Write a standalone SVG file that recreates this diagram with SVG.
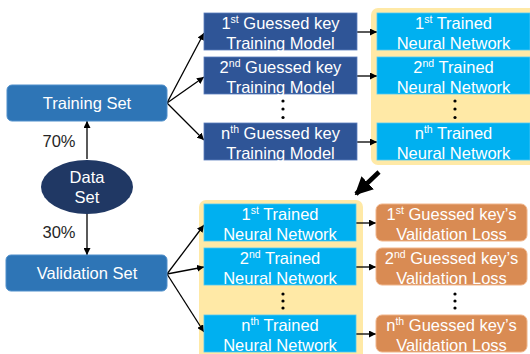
<svg xmlns="http://www.w3.org/2000/svg" width="530" height="354" viewBox="0 0 530 354">
<defs>
<marker id="ah" viewBox="0 0 10 10" refX="10" refY="5" markerWidth="7" markerHeight="7" markerUnits="userSpaceOnUse" orient="auto"><path d="M0,0 L10,5 L0,10 z" fill="#000"/></marker>
<marker id="bh" viewBox="0 0 10 10" refX="9" refY="5" markerWidth="4" markerHeight="4" orient="auto"><path d="M0,0 L10,5 L0,10 z" fill="#000"/></marker>
<style>
text{font-family:"Liberation Sans",Arial,sans-serif;font-size:16.5px;text-anchor:middle;fill:#fff}
.lbl{fill:#262626}
.set{fill:#2E75B6;stroke:#4F8FCB;stroke-width:1}
.tm{fill:#2F5597;stroke:#5B7DBD;stroke-width:0.8}
.nn{fill:#00B0F0;stroke:#4FC8F4;stroke-width:0.8}
.ls{fill:#D98B53;stroke:#F0B48A;stroke-width:1}
.bg{fill:#FFE9A6}
.c{fill:none;stroke:#000;stroke-width:1.3;marker-end:url(#ah)}
.dot{fill:#000}
.sp{font-size:10.5px}
</style>
</defs>
<rect class="bg" x="371" y="8" width="170" height="157" rx="7"/>
<rect class="bg" x="199" y="200" width="164" height="162" rx="7"/>
<g id="connectors">
<path class="c" d="M87,159 L87,121"/>
<path class="c" d="M87,214 L87,255"/>
<path class="c" d="M167,103 L204,33"/>
<path class="c" d="M167,103 L204,77"/>
<path class="c" d="M167,103 L204,140"/>
<path class="c" d="M167,274 L204,225"/>
<path class="c" d="M167,274 L204,267"/>
<path class="c" d="M167,274 L204,332"/>
<path class="c" d="M357,32 L377,32"/>
<path class="c" d="M357,76 L377,76"/>
<path class="c" d="M357,142 L377,142"/>
<path class="c" d="M356,223 L376,223"/>
<path class="c" d="M356,267 L376,267"/>
<path class="c" d="M356,334 L376,334"/>
<path d="M379,172 L356,194" stroke="#000" stroke-width="4.5" fill="none" marker-end="url(#bh)"/>
</g>
<g id="training-set"><rect class="set" x="7" y="85" width="160" height="36" rx="5"/><text x="87" y="109">Training Set</text></g>
<g id="validation-set"><rect class="set" x="6" y="255" width="161" height="36" rx="5"/><text x="87" y="279">Validation Set</text></g>
<g id="data-set"><ellipse cx="87" cy="187" rx="46" ry="27" fill="#203864"/><text x="87" y="183">Data<tspan x="87" dy="20">Set</tspan></text></g>
<text class="lbl" x="59" y="147">70%</text>
<text class="lbl" x="59" y="238">30%</text>
<g id="tm1"><rect class="tm" x="204" y="13" width="153" height="37"/><text x="280.5" y="29">1<tspan class="sp" dy="-6">st</tspan><tspan dy="6"> Guessed key</tspan><tspan x="280.5" dy="19.5">Training Model</tspan></text></g>
<g id="tm2"><rect class="tm" x="204" y="57" width="153" height="37"/><text x="280.5" y="73">2<tspan class="sp" dy="-6">nd</tspan><tspan dy="6"> Guessed key</tspan><tspan x="280.5" dy="19.5">Training Model</tspan></text></g>
<g id="tmn"><rect class="tm" x="204" y="123" width="153" height="37"/><text x="280.5" y="139">n<tspan class="sp" dy="-6">th</tspan><tspan dy="6"> Guessed key</tspan><tspan x="280.5" dy="19.5">Training Model</tspan></text></g>
<g id="nn1"><rect class="nn" x="377" y="13" width="153" height="37"/><text x="453.5" y="29">1<tspan class="sp" dy="-6">st</tspan><tspan dy="6"> Trained</tspan><tspan x="453.5" dy="19.5">Neural Network</tspan></text></g>
<g id="nn2"><rect class="nn" x="377" y="57" width="153" height="37"/><text x="453.5" y="73">2<tspan class="sp" dy="-6">nd</tspan><tspan dy="6"> Trained</tspan><tspan x="453.5" dy="19.5">Neural Network</tspan></text></g>
<g id="nnn"><rect class="nn" x="377" y="123" width="153" height="37"/><text x="453.5" y="139">n<tspan class="sp" dy="-6">th</tspan><tspan dy="6"> Trained</tspan><tspan x="453.5" dy="19.5">Neural Network</tspan></text></g>
<g id="vnn1"><rect class="nn" x="204" y="204" width="152" height="37"/><text x="280" y="220">1<tspan class="sp" dy="-6">st</tspan><tspan dy="6"> Trained</tspan><tspan x="280" dy="19.5">Neural Network</tspan></text></g>
<g id="vnn2"><rect class="nn" x="204" y="248" width="152" height="37"/><text x="280" y="264">2<tspan class="sp" dy="-6">nd</tspan><tspan dy="6"> Trained</tspan><tspan x="280" dy="19.5">Neural Network</tspan></text></g>
<g id="vnnn"><rect class="nn" x="204" y="315" width="152" height="37"/><text x="280" y="331">n<tspan class="sp" dy="-6">th</tspan><tspan dy="6"> Trained</tspan><tspan x="280" dy="19.5">Neural Network</tspan></text></g>
<g id="vl1"><rect class="ls" x="376" y="204" width="151" height="37" rx="6"/><text x="451.5" y="220">1<tspan class="sp" dy="-6">st</tspan><tspan dy="6"> Guessed key’s</tspan><tspan x="451.5" dy="19.5">Validation Loss</tspan></text></g>
<g id="vl2"><rect class="ls" x="376" y="248" width="151" height="37" rx="6"/><text x="451.5" y="264">2<tspan class="sp" dy="-6">nd</tspan><tspan dy="6"> Guessed key’s</tspan><tspan x="451.5" dy="19.5">Validation Loss</tspan></text></g>
<g id="vln"><rect class="ls" x="376" y="315" width="151" height="37" rx="6"/><text x="451.5" y="331">n<tspan class="sp" dy="-6">th</tspan><tspan dy="6"> Guessed key’s</tspan><tspan x="451.5" dy="19.5">Validation Loss</tspan></text></g>
<g id="dots">
<circle class="dot" cx="283" cy="101" r="1.6"/><circle class="dot" cx="283" cy="109" r="1.6"/><circle class="dot" cx="283" cy="117.5" r="1.6"/>
<circle class="dot" cx="455" cy="101" r="1.6"/><circle class="dot" cx="455" cy="109" r="1.6"/><circle class="dot" cx="455" cy="117.5" r="1.6"/>
<circle class="dot" cx="283" cy="294" r="1.6"/><circle class="dot" cx="283" cy="301" r="1.6"/><circle class="dot" cx="283" cy="308" r="1.6"/>
<circle class="dot" cx="455" cy="294" r="1.6"/><circle class="dot" cx="455" cy="301" r="1.6"/><circle class="dot" cx="455" cy="308" r="1.6"/>
</g>
</svg>
